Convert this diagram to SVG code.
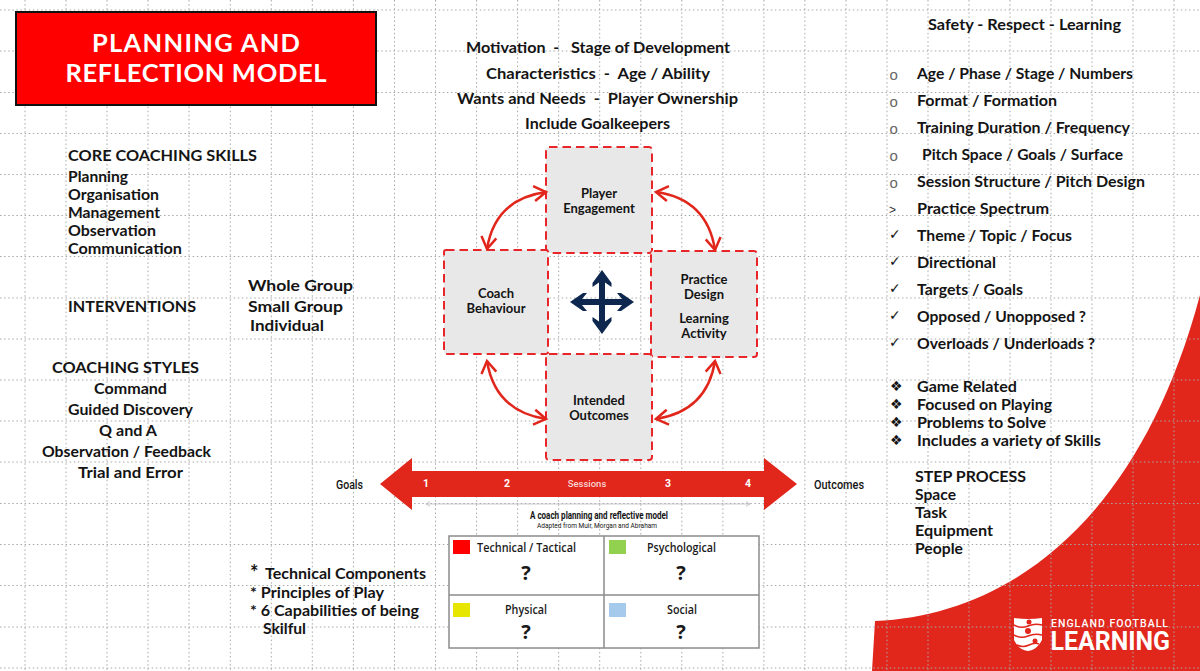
<svg xmlns="http://www.w3.org/2000/svg" width="1200" height="671" viewBox="0 0 1200 671">
<style>
text{font-family:"Lato","Liberation Sans",sans-serif;font-weight:700;fill:#141414}
.t{font-size:14.5px}
.c{text-anchor:middle}
.n{font-size:13px;text-anchor:middle}
.nd{fill:#e8e8e8;stroke:#e8262a;stroke-width:2;stroke-dasharray:8.500 5}
.cv{fill:none;stroke:#e1261c;stroke-width:2.500;marker-start:url(#oa);marker-end:url(#oa)}
.b{font-family:"DejaVu Sans",sans-serif;font-weight:400;font-size:14px}
.o{font-family:"Liberation Sans",sans-serif;font-weight:400;font-size:15px;fill:#666}
.q{font-family:"Open Sans",sans-serif;font-weight:600;font-size:12.5px;text-anchor:middle;fill:#1a1a1a}
.qm{font-family:"Open Sans",sans-serif;font-weight:700;font-size:20px;text-anchor:middle;fill:#1a1a1a}
.r{font-family:"Roboto",sans-serif;font-weight:500}
.w{fill:#fff}
</style>
<defs>
<marker id="oa" viewBox="0 0 18 20" refX="15" refY="10" markerWidth="18" markerHeight="20" markerUnits="userSpaceOnUse" orient="auto-start-reverse"><path d="M3 2.500L15 10L3 17.500" fill="none" stroke="#e1261c" stroke-width="2.500"/></marker>
<marker id="ga" viewBox="0 0 6 6" refX="5" refY="3" markerWidth="6" markerHeight="6" markerUnits="userSpaceOnUse" orient="auto-start-reverse"><path d="M1 .5L5 3L1 5.500" fill="none" stroke="#bbb" stroke-width=".8"/></marker>
</defs>
<rect width="1200" height="671" fill="#fff"/>
<path id="red-corner" d="M875 621C1010 615 1140 520 1200 295V671H872Z" fill="#e1261c"/>
<path id="grid" fill="none" stroke="#a8a8a8" stroke-width="1" stroke-dasharray="1.500 2.600" d="M25 0V671M66 0V671M107 0V671M148 0V671M189 0V671M230.300 0V671M271.300 0V671M312.300 0V671M353.400 0V671M394.500 0V671M435.500 0V671M476.600 0V671M517.600 0V671M558.700 0V671M599.700 0V671M640.800 0V671M681.800 0V671M722.900 0V671M763.900 0V671M804.900 0V671M846 0V671M887 0V671M928 0V671M969 0V671M1010 0V671M1051 0V671M1092 0V671M1133 0V671M1174 0V671M0 10H1200M0 51H1200M0 92.500H1200M0 133.500H1200M0 174.500H1200M0 215.500H1200M0 256.500H1200M0 298H1200M0 339H1200M0 380H1200M0 421H1200M0 462H1200M0 503.500H1200M0 544.500H1200M0 585.500H1200M0 627H1200M0 668H1200"/>
<g id="title"><rect x="16" y="12" width="360" height="93" fill="#f00" stroke="#111" stroke-width="2"/>
<text class="w c" x="196" y="51.500" font-size="25.500" textLength="208">PLANNING AND</text>
<text class="w c" x="196" y="81.500" font-size="25.500" textLength="261">REFLECTION MODEL</text></g>
<g id="top-text" transform="translate(0 .2)">
<text class="t" x="466" y="53" textLength="264" lengthAdjust="spacingAndGlyphs" xml:space="preserve">Motivation  -   Stage of Development</text>
<text class="t" x="486" y="78.500" textLength="224" lengthAdjust="spacingAndGlyphs" xml:space="preserve">Characteristics  -  Age / Ability</text>
<text class="t" x="457" y="104" textLength="281" lengthAdjust="spacingAndGlyphs" xml:space="preserve">Wants and Needs  -  Player Ownership</text>
<text class="t" x="525" y="129" textLength="145" lengthAdjust="spacingAndGlyphs">Include Goalkeepers</text></g>
<g id="core-skills" transform="translate(0 .3)">
<text class="t" x="68" y="161" textLength="189" lengthAdjust="spacingAndGlyphs">CORE COACHING SKILLS</text>
<text class="t" x="68" y="182" textLength="60" lengthAdjust="spacingAndGlyphs">Planning</text>
<text class="t" x="68" y="200" textLength="91" lengthAdjust="spacingAndGlyphs">Organisation</text>
<text class="t" x="68" y="218" textLength="92" lengthAdjust="spacingAndGlyphs">Management</text>
<text class="t" x="68" y="236" textLength="88" lengthAdjust="spacingAndGlyphs">Observation</text>
<text class="t" x="68" y="254" textLength="114" lengthAdjust="spacingAndGlyphs">Communication</text></g>
<g id="interventions">
<text class="t" x="68" y="311.500" textLength="128" lengthAdjust="spacingAndGlyphs">INTERVENTIONS</text>
<text x="248" y="291" font-size="16" textLength="105" lengthAdjust="spacingAndGlyphs">Whole Group</text>
<text x="248" y="312" font-size="16" textLength="95" lengthAdjust="spacingAndGlyphs">Small Group</text>
<text x="250" y="331" font-size="16" textLength="74" lengthAdjust="spacingAndGlyphs">Individual</text></g>
<g id="coaching-styles">
<text class="t" x="52" y="373" textLength="147" lengthAdjust="spacingAndGlyphs">COACHING STYLES</text>
<text class="t" x="94" y="394" textLength="73" lengthAdjust="spacingAndGlyphs">Command</text>
<text class="t" x="68" y="415" textLength="125" lengthAdjust="spacingAndGlyphs">Guided Discovery</text>
<text class="t" x="99" y="436" textLength="58" lengthAdjust="spacingAndGlyphs">Q and A</text>
<text class="t" x="42" y="457" textLength="169" lengthAdjust="spacingAndGlyphs">Observation / Feedback</text>
<text class="t" x="78" y="478" textLength="105" lengthAdjust="spacingAndGlyphs">Trial and Error</text></g>
<g id="components">
<text x="250" y="580" font-size="20">*</text>
<text class="t" x="265" y="579" textLength="161" lengthAdjust="spacingAndGlyphs">Technical Components</text>
<text class="t" x="250" y="598" textLength="134" lengthAdjust="spacingAndGlyphs">* Principles of Play</text>
<text class="t" x="250" y="616" textLength="169" lengthAdjust="spacingAndGlyphs">* 6 Capabilities of being</text>
<text class="t" x="263" y="634" textLength="43" lengthAdjust="spacingAndGlyphs">Skilful</text></g>
<g id="player-engagement"><rect class="nd" x="546" y="147" width="106" height="106" rx="3"/><text class="n" x="599" y="197.500">Player</text><text class="n" x="599" y="212.500">Engagement</text></g>
<g id="coach-behaviour"><rect class="nd" x="444" y="250" width="104" height="104" rx="2"/><text class="n" x="496" y="297.500">Coach</text><text class="n" x="496" y="312.500">Behaviour</text></g>
<g id="practice-design"><rect class="nd" x="651" y="251" width="106" height="106" rx="3"/><text class="n" x="704" y="283.500">Practice</text><text class="n" x="704" y="298.500">Design</text><text class="n" x="704" y="322.500">Learning</text><text class="n" x="704" y="337.500">Activity</text></g>
<g id="intended-outcomes"><rect class="nd" x="546" y="354" width="106" height="106" rx="3"/><text class="n" x="599" y="404.500">Intended</text><text class="n" x="599" y="419.500">Outcomes</text></g>
<g id="center-cross"><path d="M602 270L611.500 283V287L605 282.500V299H622L617 293H621L634 302L621 311H617L622 305H605V321.500L611.500 317V321L602 334L592.500 321V317L599 321.500V305H582L587 311H583L570 302L583 293H587L582 299H599V282.500L592.500 287V283Z" fill="#0e274e"/></g>
<g id="connectors">
<path class="cv" d="M546 192Q495 199 487 249"/>
<path class="cv" d="M656 192Q707 199 715 250"/>
<path class="cv" d="M487 361Q495 411 546 419"/>
<path class="cv" d="M715 361Q707 411 656 419"/>
<path d="M426 504H750" fill="none" stroke="#bbb" stroke-width=".8" marker-start="url(#ga)" marker-end="url(#ga)"/>
</g>
<g id="timeline"><path d="M380 484L412 458V471H764V458L797 484L764 510V497H412V510Z" fill="#e1261c"/>
<text class="r w c" x="426" y="487" font-size="10.500" style="font-weight:700">1</text><text class="r w c" x="507" y="487" font-size="10.500" style="font-weight:700">2</text><text class="r w c" x="587" y="487" font-size="9.500" style="fill:#f8d4d1">Sessions</text><text class="r w c" x="668" y="487" font-size="10.500" style="font-weight:700">3</text><text class="r w c" x="748" y="487" font-size="10.500" style="font-weight:700">4</text>
<text class="r" x="336" y="488.500" font-size="12" textLength="27" lengthAdjust="spacingAndGlyphs">Goals</text>
<text class="r" x="814" y="489" font-size="12" textLength="50" lengthAdjust="spacingAndGlyphs">Outcomes</text>
<text class="r c" x="599" y="518.500" font-size="10" textLength="138" lengthAdjust="spacingAndGlyphs" style="font-weight:700">A coach planning and reflective model</text>
<text class="r c" x="597" y="528" font-size="7.500" textLength="120" lengthAdjust="spacingAndGlyphs" style="font-weight:400">Adapted from Muir, Morgan and Abraham</text></g>
<g id="matrix"><rect x="449" y="536" width="310" height="112" fill="#fff" stroke="#8c8c8c" stroke-width="1.500"/><path d="M604 536V648M449 595H759" stroke="#8c8c8c" stroke-width="1.500" fill="none"/>
<rect x="453" y="540" width="17" height="14" fill="#f00"/><rect x="609" y="540" width="17" height="14" fill="#92d050"/><rect x="453" y="603" width="17" height="14" fill="#e6e600"/><rect x="609" y="603" width="17" height="14" fill="#a6caec"/>
<text class="q" x="526.500" y="552" textLength="99" lengthAdjust="spacingAndGlyphs">Technical / Tactical</text><text class="q" x="681.500" y="551.500" textLength="69" lengthAdjust="spacingAndGlyphs">Psychological</text><text class="q" x="526" y="614" textLength="42" lengthAdjust="spacingAndGlyphs">Physical</text><text class="q" x="682" y="614" textLength="30" lengthAdjust="spacingAndGlyphs">Social</text>
<text class="qm" x="526" y="580">?</text><text class="qm" x="681" y="580">?</text><text class="qm" x="526" y="639">?</text><text class="qm" x="681" y="639">?</text></g>
<g id="right-list">
<text class="t" x="928" y="30" textLength="193" lengthAdjust="spacingAndGlyphs">Safety - Respect - Learning</text>
<text class="t" x="917" y="79" textLength="216" lengthAdjust="spacingAndGlyphs">Age / Phase / Stage / Numbers</text>
<text class="t" x="917" y="106" textLength="140" lengthAdjust="spacingAndGlyphs">Format / Formation</text>
<text class="t" x="917" y="133" textLength="213" lengthAdjust="spacingAndGlyphs">Training Duration / Frequency</text>
<text class="t" x="922" y="160" textLength="201" lengthAdjust="spacingAndGlyphs">Pitch Space / Goals / Surface</text>
<text class="t" x="917" y="187" textLength="228" lengthAdjust="spacingAndGlyphs">Session Structure / Pitch Design</text>
<text class="t" x="917" y="214" textLength="132" lengthAdjust="spacingAndGlyphs">Practice Spectrum</text>
<text class="t" x="917" y="241" textLength="155" lengthAdjust="spacingAndGlyphs">Theme / Topic / Focus</text>
<text class="t" x="917" y="268" textLength="79" lengthAdjust="spacingAndGlyphs">Directional</text>
<text class="t" x="917" y="295" textLength="106" lengthAdjust="spacingAndGlyphs">Targets / Goals</text>
<text class="t" x="917" y="322" textLength="169" lengthAdjust="spacingAndGlyphs">Opposed / Unopposed ?</text>
<text class="t" x="917" y="349" textLength="178" lengthAdjust="spacingAndGlyphs">Overloads / Underloads ?</text>
<text class="o" x="889.500" y="80">o</text><text class="o" x="889.500" y="107">o</text><text class="o" x="889.500" y="134">o</text><text class="o" x="889.500" y="161">o</text><text class="o" x="889.500" y="188">o</text><text class="o" x="889" y="214" style="font-size:12px;fill:#333">&gt;</text>
<text class="b" x="889" y="239">✓</text><text class="b" x="889" y="266">✓</text><text class="b" x="889" y="293">✓</text><text class="b" x="889" y="320">✓</text><text class="b" x="889" y="347">✓</text>
<text class="b" x="890" y="391">❖</text><text class="b" x="890" y="409">❖</text><text class="b" x="890" y="427">❖</text><text class="b" x="890" y="445">❖</text>
<text class="t" x="917" y="391.500" textLength="100" lengthAdjust="spacingAndGlyphs">Game Related</text>
<text class="t" x="917" y="409.500" textLength="135" lengthAdjust="spacingAndGlyphs">Focused on Playing</text>
<text class="t" x="917" y="427.500" textLength="129" lengthAdjust="spacingAndGlyphs">Problems to Solve</text>
<text class="t" x="917" y="445.500" textLength="184" lengthAdjust="spacingAndGlyphs">Includes a variety of Skills</text>
<text class="t" x="915" y="481.500" textLength="111" lengthAdjust="spacingAndGlyphs">STEP PROCESS</text>
<text class="t" x="915" y="499.500" textLength="41" lengthAdjust="spacingAndGlyphs">Space</text>
<text class="t" x="915" y="517.500" textLength="32" lengthAdjust="spacingAndGlyphs">Task</text>
<text class="t" x="915" y="535.500" textLength="78" lengthAdjust="spacingAndGlyphs">Equipment</text>
<text class="t" x="915" y="553.500" textLength="48" lengthAdjust="spacingAndGlyphs">People</text></g>
<g id="logo"><path d="M1014 618Q1028 620 1042 618V640Q1037 650 1028 651Q1019 650 1014 640Z" fill="#fff"/>
<path d="M1014 625Q1021 629 1028 626T1042 625M1014 635Q1021 639 1028 636T1042 635M1017 645Q1023 648 1029 645T1039 644" fill="none" stroke="#e1261c" stroke-width="1.500"/>
<circle cx="1029" cy="622" r="2.500" fill="#e1261c"/><circle cx="1028" cy="631" r="3" fill="#e1261c"/><circle cx="1035" cy="641" r="2.500" fill="#e1261c"/>
<text class="r w" x="1051" y="626.500" font-size="10.500" textLength="117">ENGLAND FOOTBALL</text>
<text class="r w" x="1050.500" y="650" font-size="25" style="font-weight:700" textLength="119.500" lengthAdjust="spacingAndGlyphs">LEARNING</text></g>
</svg>
